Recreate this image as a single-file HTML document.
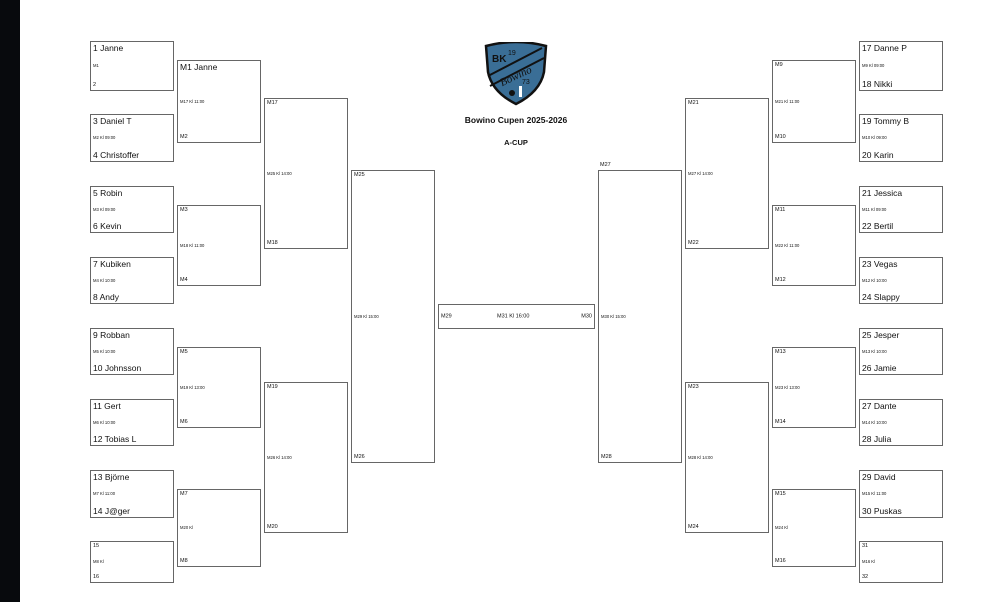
<!DOCTYPE html>
<html><head><meta charset="utf-8"><style>
body{margin:0;width:1000px;height:602px;background:#fff;position:relative;overflow:hidden;font-family:"Liberation Sans",sans-serif;color:#111}
.bar{position:absolute;left:0;top:0;width:20px;height:602px;background:#080a0d}
.b{position:absolute;border:1px solid #666;box-sizing:border-box}
.b span{position:absolute;left:2px;white-space:nowrap;line-height:1}
.t{top:2px}.m{top:50%;transform:translateY(-50%)}.bt{bottom:2px}
.L{font-size:8.5px}.S{font-size:5.5px}.T{font-size:4.2px}
</style></head><body>
<div class="bar"></div>
<div class="b" style="left:90px;top:41px;width:84px;height:50px"><span class="t L">1 Janne</span><span class="m T">M1</span><span class="bt S">2</span></div>
<div class="b" style="left:90px;top:114px;width:84px;height:48px"><span class="t L">3 Daniel T</span><span class="m T">M2 Kl 09:00</span><span class="bt L">4 Christoffer</span></div>
<div class="b" style="left:90px;top:186px;width:84px;height:47px"><span class="t L">5 Robin</span><span class="m T">M3 Kl 09:00</span><span class="bt L">6 Kevin</span></div>
<div class="b" style="left:90px;top:257px;width:84px;height:47px"><span class="t L">7 Kubiken</span><span class="m T">M4 Kl 10:00</span><span class="bt L">8 Andy</span></div>
<div class="b" style="left:90px;top:328px;width:84px;height:47px"><span class="t L">9 Robban</span><span class="m T">M5 Kl 10:00</span><span class="bt L">10 Johnsson</span></div>
<div class="b" style="left:90px;top:399px;width:84px;height:47px"><span class="t L">11 Gert</span><span class="m T">M6 Kl 10:00</span><span class="bt L">12 Tobias L</span></div>
<div class="b" style="left:90px;top:470px;width:84px;height:48px"><span class="t L">13 Björne</span><span class="m T">M7 Kl 11:00</span><span class="bt L">14 J@ger</span></div>
<div class="b" style="left:90px;top:541px;width:84px;height:42px"><span class="t S">15</span><span class="m T">M8 Kl</span><span class="bt S">16</span></div>
<div class="b" style="left:177px;top:60px;width:84px;height:83px"><span class="t L">M1 Janne</span><span class="m T">M17 Kl 11:00</span><span class="bt S">M2</span></div>
<div class="b" style="left:177px;top:205px;width:84px;height:81px"><span class="t S">M3</span><span class="m T">M18 Kl 11:00</span><span class="bt S">M4</span></div>
<div class="b" style="left:177px;top:347px;width:84px;height:81px"><span class="t S">M5</span><span class="m T">M19 Kl 13:00</span><span class="bt S">M6</span></div>
<div class="b" style="left:177px;top:489px;width:84px;height:78px"><span class="t S">M7</span><span class="m T">M20 Kl</span><span class="bt S">M8</span></div>
<div class="b" style="left:264px;top:98px;width:84px;height:151px"><span class="t S">M17</span><span class="m T">M25 Kl 14:00</span><span class="bt S">M18</span></div>
<div class="b" style="left:264px;top:382px;width:84px;height:151px"><span class="t S">M19</span><span class="m T">M26 Kl 14:00</span><span class="bt S">M20</span></div>
<div class="b" style="left:351px;top:170px;width:84px;height:293px"><span class="t S">M25</span><span class="m T">M29 Kl 15:00</span><span class="bt S">M26</span></div>
<div class="b" style="left:438px;top:304px;width:157px;height:25px"><span class="m S">M29</span><span class="m S" style="left:58px">M31 Kl 16:00</span><span class="m S" style="left:auto;right:2px">M30</span></div>
<div style="position:absolute;left:600px;top:162px;font-size:5.5px">M27</div>
<div class="b" style="left:598px;top:170px;width:84px;height:293px"><span class="m T">M30 Kl 15:00</span><span class="bt S">M28</span></div>
<div class="b" style="left:685px;top:98px;width:84px;height:151px"><span class="t S">M21</span><span class="m T">M27 Kl 14:00</span><span class="bt S">M22</span></div>
<div class="b" style="left:685px;top:382px;width:84px;height:151px"><span class="t S">M23</span><span class="m T">M28 Kl 14:00</span><span class="bt S">M24</span></div>
<div class="b" style="left:772px;top:60px;width:84px;height:83px"><span class="t S">M9</span><span class="m T">M21 Kl 11:00</span><span class="bt S">M10</span></div>
<div class="b" style="left:772px;top:205px;width:84px;height:81px"><span class="t S">M11</span><span class="m T">M22 Kl 11:00</span><span class="bt S">M12</span></div>
<div class="b" style="left:772px;top:347px;width:84px;height:81px"><span class="t S">M13</span><span class="m T">M23 Kl 13:00</span><span class="bt S">M14</span></div>
<div class="b" style="left:772px;top:489px;width:84px;height:78px"><span class="t S">M15</span><span class="m T">M24 Kl</span><span class="bt S">M16</span></div>
<div class="b" style="left:859px;top:41px;width:84px;height:50px"><span class="t L">17 Danne P</span><span class="m T">M9 Kl 09:00</span><span class="bt L">18 Nikki</span></div>
<div class="b" style="left:859px;top:114px;width:84px;height:48px"><span class="t L">19 Tommy B</span><span class="m T">M10 Kl 09:00</span><span class="bt L">20 Karin</span></div>
<div class="b" style="left:859px;top:186px;width:84px;height:47px"><span class="t L">21 Jessica</span><span class="m T">M11 Kl 09:00</span><span class="bt L">22 Bertil</span></div>
<div class="b" style="left:859px;top:257px;width:84px;height:47px"><span class="t L">23 Vegas</span><span class="m T">M12 Kl 10:00</span><span class="bt L">24 Slappy</span></div>
<div class="b" style="left:859px;top:328px;width:84px;height:47px"><span class="t L">25 Jesper</span><span class="m T">M13 Kl 10:00</span><span class="bt L">26 Jamie</span></div>
<div class="b" style="left:859px;top:399px;width:84px;height:47px"><span class="t L">27 Dante</span><span class="m T">M14 Kl 10:00</span><span class="bt L">28 Julia</span></div>
<div class="b" style="left:859px;top:470px;width:84px;height:48px"><span class="t L">29 David</span><span class="m T">M15 Kl 11:00</span><span class="bt L">30 Puskas</span></div>
<div class="b" style="left:859px;top:541px;width:84px;height:42px"><span class="t S">31</span><span class="m T">M16 Kl</span><span class="bt S">32</span></div>
<svg style="position:absolute;left:484px;top:42px" width="64" height="64" viewBox="0 0 64 64">
<path d="M2 4 Q32 -4 62 4 L60 30 Q56 50 32 62 Q8 50 4 30 Z" fill="#3a6e96" stroke="#111" stroke-width="2.5"/>
<path d="M4 34 L58 6 M6 44 L60 16" stroke="#111" stroke-width="2"/>
<text x="8" y="20" font-family="Liberation Sans" font-size="10" font-weight="bold" fill="#111">BK</text>
<text x="24" y="13" font-family="Liberation Sans" font-size="7" fill="#111">19</text>
<text x="14" y="38" font-family="Liberation Serif" font-style="italic" font-size="11" fill="#111" transform="rotate(-25 30 32)">Bowino</text>
<text x="38" y="42" font-family="Liberation Sans" font-size="7" fill="#111">73</text>
<rect x="35" y="44" width="3" height="11" fill="#fff"/>
<circle cx="28" cy="51" r="3" fill="#111"/>
</svg>
<div style="position:absolute;left:420px;top:115px;width:192px;text-align:center;font-size:8.5px;font-weight:bold">Bowino Cupen 2025-2026</div>
<div style="position:absolute;left:420px;top:138px;width:192px;text-align:center;font-size:7.5px;font-weight:bold">A-CUP</div>
</body></html>
